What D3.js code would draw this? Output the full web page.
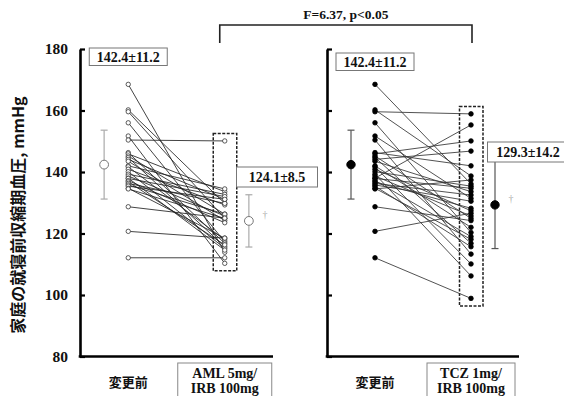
<!DOCTYPE html>
<html>
<head>
<meta charset="utf-8">
<script src="https://cdn.jsdelivr.net/npm/d3@7"></script>
<style>
  body { margin: 0; background: #fff; }
  svg { display: block; }
</style>
</head>
<body>
<svg id="chart" width="564" height="396"></svg>
<script>
// home bedtime SBP before switching (same patients in both panels)
const before = [168.5, 160.2, 159.6, 156.0, 151.7, 150.4, 146.3, 145.9, 145.2, 144.7,
  144.1, 143.5, 142.0, 141.7, 140.9, 140.1, 139.3, 138.7, 138.0, 137.9,
  137.2, 136.8, 136.3, 135.8, 135.4, 134.7, 134.5, 128.7, 120.7, 112.1];
const afterAml = [113.9, 129.8, 124.9, 117.3, 110.3, 150.1, 116.8, 133.6, 126.3, 115.7,
  131.1, 124.2, 134.5, 117.9, 129.3, 115.2, 132.7, 125.7, 114.6, 132.0,
  123.5, 116.3, 129.8, 126.3, 131.1, 118.5, 124.9, 125.0, 118.5, 112.1];
const afterTcz = [136.1, 138.7, 158.9, 120.3, 131.4, 113.3, 142.0, 150.1, 124.9, 116.8,
  146.8, 133.6, 122.0, 110.1, 127.4, 135.4, 106.2, 125.7, 155.3, 134.7,
  119.0, 128.2, 132.5, 130.5, 115.7, 118.1, 137.4, 124.2, 126.6, 98.9];

// mean, SD
const statsBefore = [142.4, 11.2];
const statsAml = [124.1, 8.5];
const statsTcz = [129.3, 14.2];

const yTicks = [80, 100, 120, 140, 160, 180];
const groupLabel = "変更前";
const amlLabel = ["AML 5mg/", "IRB 100mg"];
const tczLabel = ["TCZ 1mg/", "IRB 100mg"];
const statText = "F=6.37, p<0.05";
const yTitle = "家庭の就寝前収縮期血圧, mmHg";

const svg = d3.select("#chart");
const serif = "'Liberation Serif', 'DejaVu Serif', serif";
const cjk = "'Noto Sans CJK JP', sans-serif";

const y = d3.scaleLinear().domain([80, 180]).range([356.5, 49]);

// slot positions within a panel: 0 axis, 1 pre mean, 2 pre, 6 post, 7 post mean, 8 end
const xLeft = d3.scaleLinear().domain([0, 8]).range([80, 273]);
const xRight = d3.scaleLinear().domain([0, 8]).range([327, 519]);

const fmt = s => `${s[0].toFixed(1)}±${s[1].toFixed(1)}`;

function labelBox(g, cx, top, w, h, text) {
  g.append("rect").attr("x", cx - w / 2).attr("y", top).attr("width", w).attr("height", h)
    .attr("fill", "#fff").attr("stroke", "#777").attr("stroke-width", 1);
  g.append("text").attr("x", cx).attr("y", top + h / 2 + 5)
    .attr("text-anchor", "middle").attr("font-family", serif).attr("font-weight", "bold")
    .attr("font-size", 14).attr("fill", "#111").text(text);
}

function panel(x, after, stats, filled, opt) {
  const g = svg.append("g");

  // y axis, ticks pointing inward
  const ax = g.append("g").attr("transform", `translate(${x(0)},0)`)
    .call(d3.axisLeft(y).tickValues(yTicks).tickSizeInner(-5).tickSizeOuter(0).tickPadding(12));
  ax.select(".domain").attr("stroke", "#000").attr("stroke-width", 2.6);
  ax.selectAll(".tick line").attr("stroke", "#000").attr("stroke-width", 2.2);
  ax.selectAll("text").attr("font-family", serif).attr("font-weight", "bold")
    .attr("font-size", 15.5).attr("fill", "#111");
  if (!opt.tickLabels) ax.selectAll("text").remove();

  g.append("line").attr("x1", x(0) - 1.3).attr("x2", x(8))
    .attr("y1", y(80)).attr("y2", y(80)).attr("stroke", "#000").attr("stroke-width", 2.6);

  // dashed box round the post values
  const ext = d3.extent(after);
  g.append("rect").attr("x", x(6) - 11.5).attr("width", 23.5)
    .attr("y", y(ext[1]) - 7.5).attr("height", y(ext[0]) - y(ext[1]) + 15)
    .attr("fill", "none").attr("stroke", "#222").attr("stroke-width", 1.5)
    .attr("stroke-dasharray", "3,1.5");

  // paired lines
  const pairs = before.map((b, i) => [b, after[i]]);
  g.append("g").selectAll("line").data(pairs).join("line")
    .attr("x1", x(2)).attr("x2", x(6))
    .attr("y1", d => y(d[0])).attr("y2", d => y(d[1]))
    .attr("stroke", filled ? "#333" : "#222").attr("stroke-width", 0.85);

  const dots = (vals, cx) => g.append("g").selectAll("circle").data(vals).join("circle")
    .attr("cx", cx).attr("cy", d => y(d)).attr("r", filled ? 2.3 : 2.2)
    .attr("fill", filled ? "#000" : "#fff").attr("stroke", filled ? "#000" : "#333")
    .attr("stroke-width", 0.8);
  dots(before, x(2));
  dots(after, x(6));

  // mean +/- SD markers
  const barCol = filled ? "#555" : "#aaa";
  [[statsBefore, x(1)], [stats, x(7)]].forEach(([s, cx]) => {
    const m = g.append("g");
    m.append("line").attr("x1", cx).attr("x2", cx)
      .attr("y1", y(s[0] - s[1])).attr("y2", y(s[0] + s[1]))
      .attr("stroke", barCol).attr("stroke-width", 1.2);
    [s[0] - s[1], s[0] + s[1]].forEach(v => m.append("line")
      .attr("x1", cx - 3.5).attr("x2", cx + 3.5).attr("y1", y(v)).attr("y2", y(v))
      .attr("stroke", barCol).attr("stroke-width", 1.2));
    m.append("circle").attr("cx", cx).attr("cy", y(s[0])).attr("r", filled ? 4.2 : 4.4)
      .attr("fill", filled ? "#000" : "#fff").attr("stroke", filled ? "#000" : "#777")
      .attr("stroke-width", 1);
  });

  // dagger
  g.append("text").attr("x", x(7) + 16).attr("y", y(stats[0]) - 3)
    .attr("text-anchor", "middle").attr("font-family", serif).attr("font-size", 10)
    .attr("fill", "#aaa").text("†");

  // value boxes
  labelBox(g, x(2), opt.preBoxTop, 78, 17.5, fmt(statsBefore));
  labelBox(g, opt.postBoxX, opt.postBoxTop, 81, 20, fmt(stats));

  // category labels
  g.append("text").attr("x", x(2)).attr("y", 387).attr("text-anchor", "middle")
    .attr("font-family", cjk).attr("font-weight", "bold").attr("font-size", 13)
    .attr("fill", "#111").text(groupLabel);
  g.append("rect").attr("x", x(6) - opt.catW / 2).attr("y", 363)
    .attr("width", opt.catW).attr("height", 40)
    .attr("fill", "#fff").attr("stroke", "#888").attr("stroke-width", 1);
  opt.cat.forEach((t, i) => g.append("text").attr("x", x(6)).attr("y", 378 + i * 15)
    .attr("text-anchor", "middle").attr("font-family", serif).attr("font-weight", "bold")
    .attr("font-size", 14).attr("fill", "#111").text(t));
}

panel(xLeft, afterAml, statsAml, false,
  { tickLabels: true, preBoxTop: 48, postBoxX: 277, postBoxTop: 167, catW: 94, cat: amlLabel });
panel(xRight, afterTcz, statsTcz, true,
  { tickLabels: false, preBoxTop: 53, postBoxX: 528, postBoxTop: 142, catW: 88, cat: tczLabel });

// comparison bracket
const bx1 = xLeft(6) - 5, bx2 = xRight(6) + 1;
svg.append("path").attr("d", `M${bx1},43V25H${bx2}V43`)
  .attr("fill", "none").attr("stroke", "#222").attr("stroke-width", 1.6);
svg.append("text").attr("x", (bx1 + bx2) / 2).attr("y", 19).attr("text-anchor", "middle")
  .attr("font-family", serif).attr("font-weight", "bold").attr("font-size", 13.5)
  .attr("fill", "#111").text(statText);

// y title
svg.append("text").attr("transform", "translate(24,215) rotate(-90)")
  .attr("text-anchor", "middle").attr("font-family", cjk).attr("font-weight", "bold")
  .attr("font-size", 16).attr("fill", "#111").text(yTitle);
</script>
</body>
</html>
